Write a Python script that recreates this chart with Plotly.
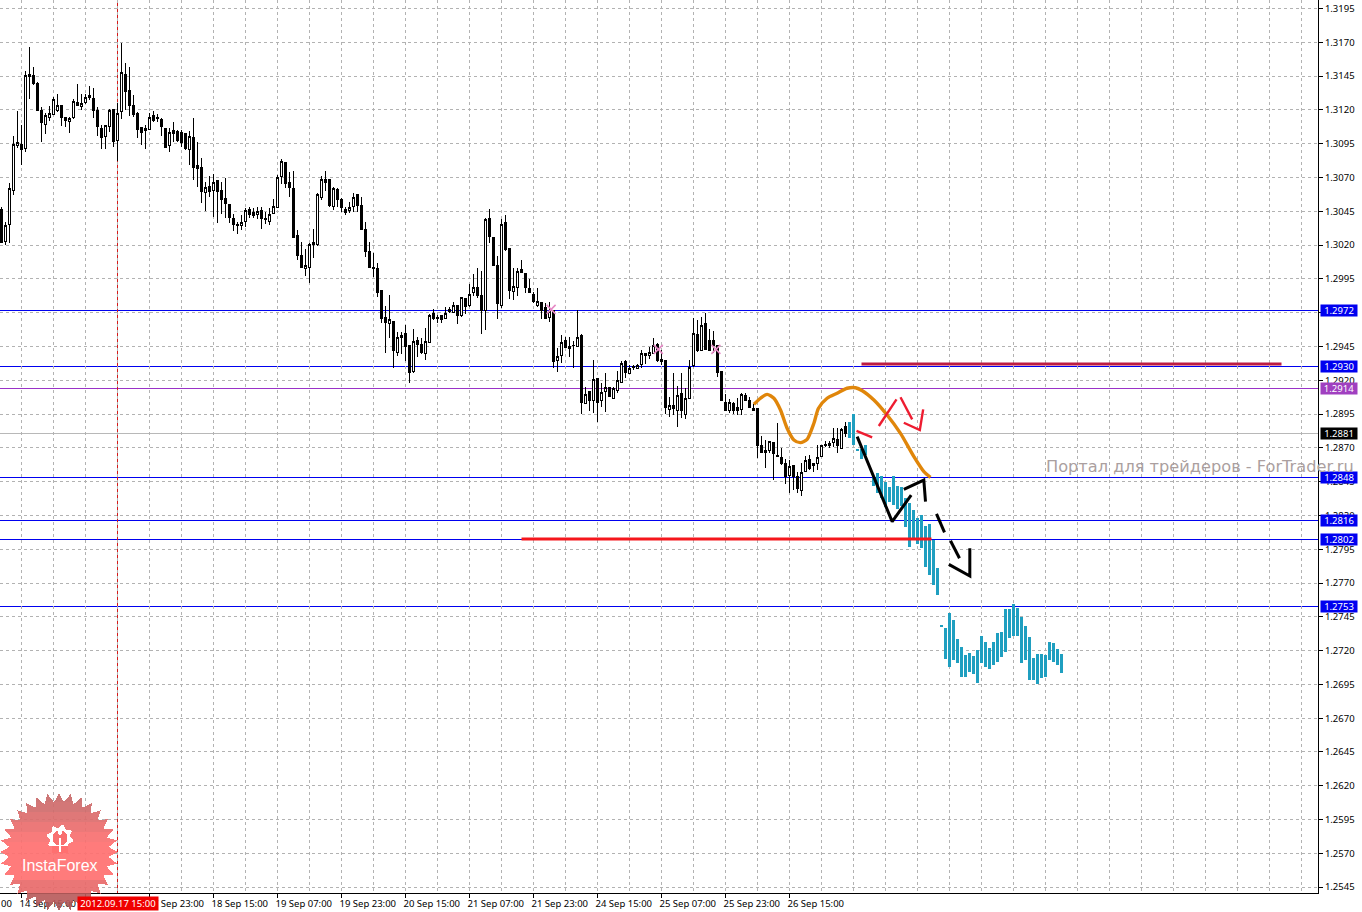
import math
import plotly.graph_objects as go

opens = [
1.30465,1.30224,1.30354,1.30606,1.30936,1.30946,1.30914,1.31447,1.31457,1.31393,
1.31195,1.31092,1.31146,1.31166,1.31195,1.31230,1.31141,1.31116,1.31143,1.31257,
1.31225,1.31254,1.31309,1.31286,1.31195,1.31065,1.31005,1.31079,1.31205,1.30976,
1.31188,1.31466,1.31346,1.31230,1.31173,1.31067,1.31050,1.31057,1.31161,1.31146,
1.31126,1.31065,1.30936,1.31050,1.31037,1.31032,1.31028,1.30907,1.30998,1.30791,
1.30776,1.30591,1.30635,1.30603,1.30680,1.30606,1.30547,1.30497,1.30399,1.30354,
1.30344,1.30374,1.30465,1.30438,1.30426,1.30458,1.30399,1.30374,1.30436,1.30480,
1.30709,1.30808,1.30667,1.30621,1.30268,1.30120,1.30028,1.30033,1.30223,1.30201,
1.30551,1.30682,1.30682,1.30485,1.30608,1.30541,1.30465,1.30455,1.30485,1.30571,
1.30490,1.30312,1.30152,1.30031,1.30024,1.29861,1.29666,1.29619,1.29636,1.29405,
1.29528,1.29543,1.29459,1.29264,1.29498,1.29464,1.29400,1.29479,1.29691,1.29668,
1.29683,1.29656,1.29708,1.29705,1.29750,1.29678,1.29802,1.29750,1.29846,1.29888,
1.29824,1.29718,1.30398,1.30258,1.30051,1.29750,1.30369,1.30176,1.29858,1.29885,
1.30019,1.29987,1.29881,1.29836,1.29752,1.29777,1.29740,1.29663,1.29718,1.29345,
1.29382,1.29491,1.29434,1.29461,1.29451,1.29528,1.29030,1.29114,1.29047,1.29214,
1.29047,1.29116,1.29143,1.29064,1.29126,1.29182,1.29340,1.29251,1.29293,1.29286,
1.29318,1.29399,1.29387,1.29399,1.29466,1.29338,1.29350,1.28983,1.29017,1.28980,
1.29099,1.28946,1.29064,1.29306,1.29542,1.29424,1.29621,1.29498,1.29491,1.29461,
1.29266,1.29037,1.28973,1.29030,1.29000,1.28985,1.29091,1.29054,1.28988,1.28988,
1.28714,1.28684,1.28679,1.28741,1.28645,1.28630,1.28581,1.28494,1.28573,1.28485,
1.28383,1.28524,1.28615,1.28583,1.28583,1.28635,1.28726,1.28734,1.28739,1.28763,
1.28694,1.28857]
closes = [
1.30219,1.30347,1.30621,1.30946,1.30961,1.30909,1.31457,1.31464,1.31393,1.31195,
1.31106,1.31161,1.31175,1.31279,1.31235,1.31143,1.31121,1.31139,1.31264,1.31232,
1.31249,1.31291,1.31291,1.31195,1.31077,1.30995,1.31087,1.31198,1.30966,1.31175,
1.31479,1.31336,1.31230,1.31166,1.31055,1.31032,1.31065,1.31146,1.31121,1.31139,
1.31077,1.30922,1.31035,1.31025,1.30971,1.30963,1.30912,1.31005,1.30774,1.30766,
1.30594,1.30626,1.30594,1.30665,1.30594,1.30534,1.30507,1.30404,1.30349,1.30344,
1.30369,1.30458,1.30423,1.30418,1.30450,1.30399,1.30389,1.30428,1.30487,1.30697,
1.30820,1.30655,1.30626,1.30256,1.30120,1.30033,1.30051,1.30206,1.30201,1.30571,
1.30687,1.30662,1.30490,1.30620,1.30539,1.30477,1.30445,1.30480,1.30556,1.30490,
1.30317,1.30152,1.30033,1.30026,1.29848,1.29656,1.29627,1.29651,1.29419,1.29513,
1.29513,1.29449,1.29257,1.29488,1.29464,1.29405,1.29488,1.29683,1.29659,1.29656,
1.29649,1.29696,1.29725,1.29755,1.29683,1.29809,1.29745,1.29836,1.29883,1.29824,
1.29718,1.30391,1.30263,1.30051,1.29765,1.30356,1.30164,1.29863,1.29895,1.30006,
1.29996,1.29883,1.29848,1.29782,1.29782,1.29715,1.29656,1.29710,1.29338,1.29377,
1.29481,1.29444,1.29451,1.29456,1.29520,1.29037,1.29096,1.29054,1.29207,1.29039,
1.29111,1.29148,1.29079,1.29138,1.29200,1.29325,1.29254,1.29288,1.29301,1.29311,
1.29399,1.29387,1.29404,1.29459,1.29343,1.29355,1.28997,1.29010,1.28993,1.29089,
1.28980,1.29062,1.29296,1.29547,1.29419,1.29607,1.29431,1.29424,1.29461,1.29256,
1.29049,1.28980,1.29037,1.28975,1.28975,1.29096,1.29054,1.29000,1.28975,1.28716,
1.28665,1.28665,1.28748,1.28657,1.28635,1.28581,1.28487,1.28559,1.28485,1.28398,
1.28519,1.28608,1.28549,1.28571,1.28630,1.28716,1.28716,1.28716,1.28773,1.28719,
1.28837,1.28803]
highs = [
1.30485,1.30374,1.30658,1.31008,1.31193,1.31089,1.31489,1.31669,1.31516,1.31410,
1.31220,1.31180,1.31230,1.31299,1.31319,1.31235,1.31151,1.31146,1.31279,1.31390,
1.31319,1.31319,1.31378,1.31360,1.31220,1.31089,1.31092,1.31205,1.31205,1.31254,
1.31693,1.31545,1.31516,1.31309,1.31188,1.31077,1.31089,1.31180,1.31193,1.31171,
1.31139,1.31070,1.31065,1.31114,1.31052,1.31052,1.31032,1.31045,1.31139,1.30961,
1.30843,1.30670,1.30714,1.30724,1.30685,1.30670,1.30695,1.30505,1.30428,1.30374,
1.30423,1.30478,1.30485,1.30473,1.30485,1.30485,1.30448,1.30473,1.30542,1.30717,
1.30838,1.30813,1.30744,1.30751,1.30312,1.30226,1.30169,1.30218,1.30320,1.30583,
1.30714,1.30749,1.30685,1.30628,1.30620,1.30546,1.30485,1.30522,1.30583,1.30578,
1.30554,1.30369,1.30226,1.30144,1.30065,1.29861,1.29750,1.29831,1.29636,1.29557,
1.29557,1.29609,1.29459,1.29577,1.29523,1.29511,1.29585,1.29691,1.29728,1.29683,
1.29683,1.29745,1.29745,1.29782,1.29750,1.29819,1.29812,1.29913,1.29987,1.30028,
1.30009,1.30398,1.30465,1.30258,1.30120,1.30393,1.30423,1.30176,1.30028,1.30028,
1.30090,1.29987,1.29947,1.29856,1.29881,1.29777,1.29770,1.29782,1.29718,1.29437,
1.29535,1.29523,1.29523,1.29493,1.29720,1.29543,1.29148,1.29114,1.29350,1.29214,
1.29177,1.29251,1.29148,1.29148,1.29269,1.29345,1.29350,1.29313,1.29313,1.29321,
1.29424,1.29399,1.29449,1.29510,1.29473,1.29424,1.29350,1.29079,1.29251,1.29158,
1.29251,1.29141,1.29350,1.29658,1.29646,1.29666,1.29695,1.29577,1.29567,1.29461,
1.29266,1.29099,1.29062,1.29042,1.29067,1.29108,1.29108,1.29079,1.29025,1.28988,
1.28788,1.28758,1.28753,1.28741,1.28882,1.28697,1.28615,1.28610,1.28573,1.28519,
1.28586,1.28642,1.28647,1.28586,1.28721,1.28721,1.28753,1.28751,1.28845,1.28845,
1.28845,1.28894]
lows = [
1.30214,1.30201,1.30219,1.30571,1.30917,1.30793,1.30892,1.31282,1.31385,1.31193,
1.30966,1.31023,1.31121,1.31161,1.31185,1.31082,1.31077,1.31032,1.31131,1.31230,
1.31200,1.31245,1.31274,1.31141,1.31008,1.30909,1.30914,1.31040,1.30924,1.30823,
1.31136,1.31200,1.31156,1.31146,1.30995,1.30941,1.30909,1.31052,1.31111,1.31114,
1.31008,1.30917,1.30892,1.30963,1.30963,1.30929,1.30904,1.30793,1.30682,1.30633,
1.30515,1.30455,1.30559,1.30411,1.30367,1.30431,1.30399,1.30367,1.30307,1.30285,
1.30312,1.30337,1.30399,1.30399,1.30396,1.30322,1.30357,1.30349,1.30431,1.30475,
1.30653,1.30626,1.30559,1.30251,1.30090,1.30028,1.29972,1.29922,1.30103,1.30190,
1.30534,1.30603,1.30485,1.30460,1.30480,1.30448,1.30423,1.30440,1.30448,1.30448,
1.30312,1.30110,1.30028,1.29962,1.29819,1.29627,1.29405,1.29516,1.29294,1.29380,
1.29395,1.29343,1.29183,1.29257,1.29375,1.29392,1.29350,1.29474,1.29646,1.29627,
1.29627,1.29656,1.29696,1.29703,1.29617,1.29671,1.29691,1.29740,1.29824,1.29807,
1.29543,1.29572,1.30218,1.30046,1.29656,1.29733,1.30159,1.29799,1.29794,1.29824,
1.29991,1.29844,1.29844,1.29774,1.29745,1.29651,1.29651,1.29631,1.29294,1.29264,
1.29326,1.29437,1.29375,1.29289,1.29449,1.28951,1.29025,1.28975,1.28960,1.28894,
1.29000,1.28968,1.29074,1.29059,1.29104,1.29177,1.29219,1.29247,1.29276,1.29281,
1.29288,1.29321,1.29355,1.29394,1.29338,1.29313,1.28951,1.28931,1.28943,1.28857,
1.28919,1.28911,1.29059,1.29301,1.29412,1.29419,1.29424,1.29419,1.29399,1.29227,
1.29044,1.28975,1.28956,1.28951,1.28946,1.28943,1.29049,1.28993,1.28973,1.28628,
1.28660,1.28554,1.28665,1.28462,1.28630,1.28576,1.28430,1.28364,1.28388,1.28369,
1.28346,1.28519,1.28536,1.28519,1.28536,1.28630,1.28709,1.28697,1.28709,1.28665,
1.28689,1.28778]

teal_bars = [212,213,214,215,216,218,219,220,221,222,223,224,225,226,227,228,229,230,231,232,233,234,
             235,236,237,238,239,240,241,242,243,244,245,246,247,248,249,250,251,252,253,254,255,256,257,258,259,260,261,262,263,264,265]
teal_high = [1.28894,1.28948,1.28692,1.28689,1.28721,1.28492,1.28512,1.28492,1.28450,1.28413,1.28492,1.28418,1.28408,1.28327,1.28290,1.28240,1.28179,1.28203,1.28122,1.28137,1.28018,1.27809,
             1.27390,1.27365,1.27476,1.27426,1.27283,1.27224,1.27168,1.27180,1.27160,1.27204,1.27308,1.27266,1.27217,1.27266,1.27333,1.27335,1.27505,1.27505,1.27542,1.27513,1.27451,1.27385,1.27298,1.27143,1.27173,1.27175,1.27168,1.27261,1.27254,1.27209,1.27175]
teal_low = [1.28770,1.28721,1.28677,1.28615,1.28647,1.28418,1.28364,1.28327,1.28265,1.28297,1.28277,1.28245,1.28270,1.28112,1.27969,1.28031,1.27989,1.27957,1.27821,1.27759,1.27685,1.27612,
            1.27375,1.27136,1.27081,1.27131,1.27106,1.27007,1.27007,1.27044,1.27027,1.26963,1.27106,1.27076,1.27062,1.27094,1.27118,1.27150,1.27192,1.27296,1.27308,1.27308,1.27106,1.27131,1.26983,1.26983,1.26953,1.26995,1.27007,1.27131,1.27118,1.27091,1.27037]

orange_x = [188.1,189.75,191.4,193.1,194.75,196.4,198.1,199.75,201.4,203.1,204.25,206.4,208.9,211.4,213.5,215.2,218.1,221.4,224.75,228.1,230.6,232.25]
orange_y = [1.29022,1.29067,1.29096,1.29067,1.28980,1.28845,1.28758,1.28739,1.28763,1.28882,1.28993,1.29067,1.29104,1.29141,1.29145,1.29123,1.29054,1.28943,1.28807,1.28635,1.28524,1.28482]

black_strokes = [
    ([213.92,222.67,227.42],[1.28783,1.28154,1.28351]),
    ([225.58,230.58,231.0],[1.28393,1.28462,1.28302]),
    ([233.75,235.75],[1.28211,1.28075]),
    ([237.25,239.5],[1.28013,1.27883]),
    ([236.83,242.08,242.08],[1.27838,1.27752,1.27957]),
]
red_strokes = [
    ([213.75,217.67],[1.28825,1.28778]),
    ([219.33,223.75],[1.28862,1.29059]),
    ([224.75,227.67],[1.29074,1.28911]),
    ([225.58,229.58,230.42],[1.28886,1.28832,1.28985]),
]
fractal_x = [137.4,164.2,178.6]
fractal_y = [1.29725,1.29429,1.29429]

blue_levels = [1.2972,1.2930,1.2848,1.2816,1.2802,1.2753]
purple_level = 1.2914
bid_level = 1.2881
resist_x, resist_y = [215,320], [1.2932,1.2932]
support_x, support_y = [130,232.5], [1.28025,1.28025]

price_ticks = [1.2545+0.0025*i for i in range(27)]
time_ticks = [5,21,37,53,69,85,101,117,133,149,165,181,197]
time_labels = ["14 Sep 15:00","17 Sep 07:00","17 Sep 23:00","18 Sep 15:00","19 Sep 07:00","19 Sep 23:00","20 Sep 15:00",
               "21 Sep 07:00","21 Sep 23:00","24 Sep 15:00","25 Sep 07:00","25 Sep 23:00","26 Sep 15:00"]
grid_minor = [k for k in range(5,330,8) if k not in time_ticks]
crosshair_bar = 29

FONT = "Noto Sans"
FS = 9.5
W_PLOT, H_PLOT = 1318, 893
GRID = "#b2b2b2"
x_bars = list(range(len(opens)))

fig = go.Figure()
fig.add_trace(go.Scatter(x=fractal_x, y=fractal_y, mode="markers", hoverinfo="skip",
    marker=dict(symbol="x-thin-open", size=9, color="#e68ac6", line=dict(color="#e68ac6", width=1.6))))
fig.add_trace(go.Candlestick(x=x_bars, open=opens, high=highs, low=lows, close=closes, whiskerwidth=0,
    increasing=dict(line=dict(color="black", width=1), fillcolor="white"),
    decreasing=dict(line=dict(color="black", width=1), fillcolor="black")))
fig.add_trace(go.Bar(x=teal_bars, base=teal_low, y=[h-l for h,l in zip(teal_high,teal_low)],
    width=0.95, marker=dict(color="#1f9fc0", line=dict(width=0))))
fig.add_trace(go.Scatter(x=support_x, y=support_y, mode="lines", line=dict(color="#f5161c", width=3)))
fig.add_trace(go.Scatter(x=resist_x, y=resist_y, mode="lines", line=dict(color="#bd1b42", width=3)))
fig.add_trace(go.Scatter(x=orange_x, y=orange_y, mode="lines", line=dict(color="#e0860a", width=3.4, shape="spline", smoothing=0.7)))
for xs, ys in black_strokes:
    fig.add_trace(go.Scatter(x=xs, y=ys, mode="lines", line=dict(color="black", width=3)))
for xs, ys in red_strokes:
    fig.add_trace(go.Scatter(x=xs, y=ys, mode="lines", line=dict(color="#ee1c30", width=2.4)))

shapes = []
for lv in blue_levels:
    shapes.append(dict(type="line", xref="paper", x0=0, x1=1, yref="y", y0=lv, y1=lv, layer="below", line=dict(color="#0000f0", width=1)))
shapes.append(dict(type="line", xref="paper", x0=0, x1=1, yref="y", y0=purple_level, y1=purple_level, layer="below", line=dict(color="#9a32c8", width=1)))
shapes.append(dict(type="line", xref="paper", x0=0, x1=1, yref="y", y0=bid_level, y1=bid_level, layer="below", line=dict(color="#b8b8b8", width=1)))
shapes.append(dict(type="line", xref="x", x0=crosshair_bar, x1=crosshair_bar, yref="paper", y0=0, y1=1, layer="below", line=dict(color="#d81818", width=1)))

# InstaForex badge (logo decoration, in page pixels)
def px(x, y): return x/W_PLOT, (H_PLOT-y)/H_PLOT
def path(pts):
    return "M " + " L ".join("%.5f,%.5f" % px(*p) for p in pts) + " Z"
cx, cy, n = 59, 852, 32
star = []
for i in range(2*n):
    r = 59 if i % 2 == 0 else 50
    a = math.pi*i/n - math.pi/2
    star.append((cx+r*math.cos(a), cy+r*math.sin(a)))
def clip(pts, y0, y1):
    def half(poly, keep, cross):
        out = []
        for i in range(len(poly)):
            a, b = poly[i], poly[(i+1) % len(poly)]
            if keep(a): out.append(a)
            if keep(a) != keep(b):
                t = (cross-a[1])/(b[1]-a[1])
                out.append((a[0]+t*(b[0]-a[0]), cross))
        return out
    return half(half(pts, lambda p: p[1] >= y0, y0), lambda p: p[1] <= y1, y1)
bands = [(790,802,"#c96a6a"),(802,812,"#cf6b6b"),(812,822,"#dc6c6c"),(822,832,"#ea6e6e"),(832,842,"#f77070"),
         (842,880,"#ff7070"),(880,893,"#e86a6a"),(893,902,"#b85c5c"),(902,914,"#a85656")]
for y0, y1, col in bands:
    pts = clip(star, y0, y1)
    if len(pts) > 2:
        shapes.append(dict(type="path", xref="paper", yref="paper", path=path(pts), fillcolor=col, opacity=0.92, line=dict(width=0), layer="above"))
gear = []
for i in range(32):
    r = 13.5 if (i % 4) in (0, 1) else 10.5
    a = 2*math.pi*i/32 + 0.1
    gear.append((60+r*math.cos(a), 838+r*math.sin(a)))
shapes.append(dict(type="path", xref="paper", yref="paper", path=path(gear), fillcolor="white", line=dict(width=0), layer="above"))
inner = [(60+7.5*math.cos(2*math.pi*i/24), 838+7.5*math.sin(2*math.pi*i/24)) for i in range(24)]
shapes.append(dict(type="path", xref="paper", yref="paper", path=path(inner), fillcolor="#f97070", line=dict(width=0), layer="above"))
notch = [(52,846),(68,846),(68,853),(52,853)]
shapes.append(dict(type="path", xref="paper", yref="paper", path=path(notch), fillcolor="#ff7070", line=dict(width=0), layer="above"))
stem = [(58.7,838),(61.3,838),(61.3,852),(58.7,852)]
shapes.append(dict(type="path", xref="paper", yref="paper", path=path(stem), fillcolor="white", line=dict(width=0), layer="above"))
dot = [(60+2.2*math.cos(2*math.pi*i/12), 833+2.2*math.sin(2*math.pi*i/12)) for i in range(12)]
shapes.append(dict(type="path", xref="paper", yref="paper", path=path(dot), fillcolor="white", line=dict(width=0), layer="above"))

anns = []
def price_box(lv, text, bg):
    anns.append(dict(xref="paper", x=1, xanchor="left", xshift=2, yref="y", y=lv, yanchor="middle", text=text, showarrow=False,
        bgcolor=bg, width=36, height=11, borderpad=0, font=dict(family=FONT, size=FS, color="white"), align="center"))
for lv in blue_levels:
    price_box(lv, "%.4f" % lv, "#0000f0")
price_box(purple_level, "%.4f" % purple_level, "#a040c0")
price_box(bid_level, "%.4f" % bid_level, "black")
anns.append(dict(xref="x", x=crosshair_bar, xanchor="center", yref="paper", y=0, yanchor="top", yshift=-3, text="2012.09.17 15:00", showarrow=False,
    bgcolor="#f00000", width=80, height=13, borderpad=0, font=dict(family=FONT, size=FS, color="white")))
anns.append(dict(xref="paper", x=0, xanchor="left", yref="paper", y=0, yanchor="top", yshift=-3, text="00", showarrow=False, xshift=0,
    font=dict(family=FONT, size=FS, color="black"), borderpad=0))
anns.append(dict(xref="paper", x=1356/W_PLOT, xanchor="right", yref="paper", y=(H_PLOT-466)/H_PLOT, yanchor="middle",
    text="Портал для трейдеров - ForTrader.ru", showarrow=False, font=dict(family="DejaVu Sans", size=16.2, color="#ab9f9f")))
anns.append(dict(xref="paper", x=60/W_PLOT, xanchor="center", yref="paper", y=(H_PLOT-865)/H_PLOT, yanchor="middle",
    text="InstaForex", showarrow=False, font=dict(family="Liberation Sans", size=16, color="white")))

fig.update_layout(
    width=1362, height=912, margin=dict(l=0, r=44, t=0, b=19, autoexpand=False),
    paper_bgcolor="white", plot_bgcolor="white", showlegend=False, bargap=0, boxgap=0.15,
    shapes=shapes, annotations=anns, font=dict(family=FONT, size=FS, color="black"),
    xaxis=dict(range=[-0.375, 329.125], rangeslider=dict(visible=False), tickmode="array", tickvals=time_ticks, ticktext=time_labels,
        ticks="outside", ticklen=4, tickcolor="black", ticklabelposition="outside right", tickangle=0,
        ticklabelshift=-3, ticklabelstandoff=2,
        showline=True, linecolor="black", linewidth=1, showgrid=True, gridcolor=GRID, griddash="3px,3px", gridwidth=1, zeroline=False,
        minor=dict(tickmode="array", tickvals=grid_minor, showgrid=True, gridcolor=GRID, griddash="3px,3px", gridwidth=1, ticks=""),
        tickfont=dict(family=FONT, size=FS, color="black")),
    yaxis=dict(range=[1.2972-583/13516, 1.2972+310/13516], side="right", tickmode="array", tickvals=price_ticks, tickformat=".4f",
        ticks="outside", ticklen=4, tickcolor="black", showline=True, linecolor="black", linewidth=1, mirror=False,
        showgrid=True, gridcolor=GRID, griddash="3px,3px", gridwidth=1, zeroline=False,
        tickfont=dict(family=FONT, size=FS, color="black")),
)
page_fix = """
document.body.style.margin='0';document.body.style.overflow='hidden';
var st=document.createElement('style');
st.textContent='.shapelayer path,.trace.boxes path{shape-rendering:crispEdges !important}';
document.head.appendChild(st);
"""
fig.write_html("out.html", post_script=page_fix, config={"displayModeBar": False})
